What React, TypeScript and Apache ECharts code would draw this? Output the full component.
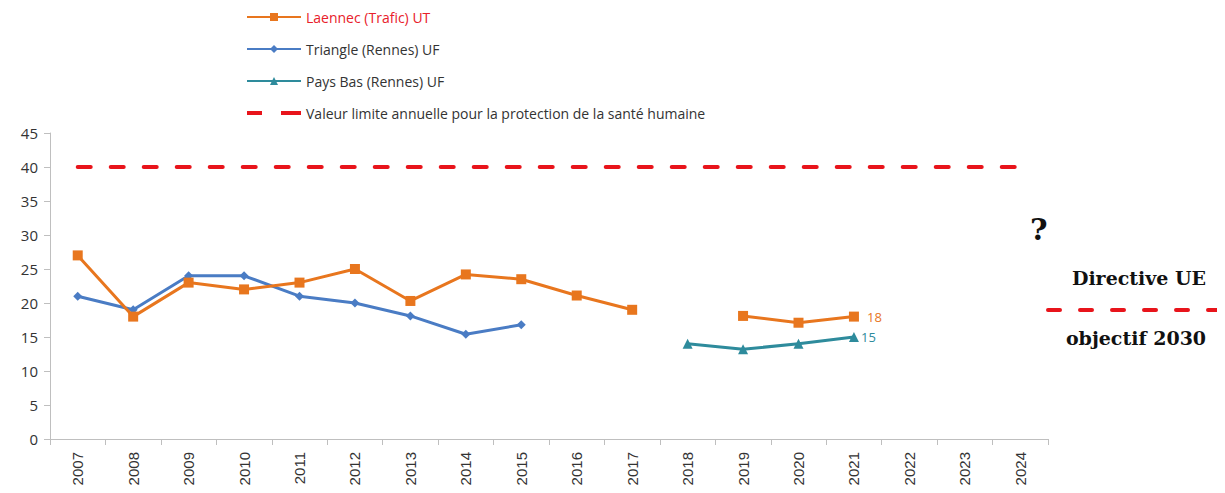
import React, { useEffect, useRef } from "react";
import * as echarts from "echarts";

const years = ["2007","2008","2009","2010","2011","2012","2013","2014","2015","2016","2017","2018","2019","2020","2021","2022","2023","2024"];
const laennec = [27, 18, 23, 22, 23, 25, 20.3, 24.2, 23.5, 21.1, 19, null, 18.1, 17.1, 18, null, null, null];
const triangle = [21, 19, 24, 24, 21, 20, 18.1, 15.4, 16.8, null, null, null, null, null, null, null, null, null];
const paysBas = [null, null, null, null, null, null, null, null, null, null, null, 14, 13.2, 14, 15, null, null, null];
const limite = [40, 40, 40, 40, 40, 40, 40, 40, 40, 40, 40, 40, 40, 40, 40, 40, 40, 40];
const names = ["Laennec (Trafic) UT", "Triangle (Rennes) UF", "Pays Bas (Rennes) UF", "Valeur limite annuelle pour la protection de la santé humaine"];

const ORANGE = "#E8761E";
const BLUE = "#4A7CC4";
const TEAL = "#2E8B9C";
const RED = "#E8141B";

export default function App() {
  const ref = useRef<HTMLDivElement>(null);
  useEffect(() => {
    const chart = echarts.init(ref.current!, null, { renderer: "svg" });
    const lastIdx = 14;
    chart.setOption({
      animation: false,
      textStyle: { fontFamily: "Open Sans" },
      legend: {
        orient: "vertical",
        left: 241,
        top: 5,
        itemWidth: 54,
        itemHeight: 10,
        itemGap: 18,
        textStyle: { fontSize: 14, color: "#333", fontFamily: "Open Sans" },
        data: [
          { name: names[0], textStyle: { color: "#E8202A" } },
          { name: names[1] },
          { name: names[2] },
          { name: names[3], icon: "path://M0,3h15v4h-15z M34,3h20v4h-20z", itemStyle: { color: RED } },
        ],
      },
      grid: { left: 50, right: 177, top: 133, bottom: 54, containLabel: false },
      xAxis: {
        type: "category",
        data: years,
        boundaryGap: true,
        axisLine: { lineStyle: { color: "#bfbfbf", width: 1 } },
        axisTick: { show: true, alignWithLabel: false, length: 6, lineStyle: { color: "#bfbfbf" } },
        axisLabel: { rotate: 90, fontSize: 15, color: "#333", margin: 13, fontFamily: "Liberation Sans" },
      },
      yAxis: {
        type: "value",
        min: 0,
        max: 45,
        interval: 5,
        splitLine: { show: false },
        axisLine: { show: true, lineStyle: { color: "#bfbfbf" } },
        axisTick: { show: true, length: 6, lineStyle: { color: "#bfbfbf" } },
        axisLabel: { fontSize: 15, color: "#333", margin: 12 },
      },
      series: [
        {
          name: names[0],
          type: "line",
          data: laennec,
          connectNulls: false,
          symbol: "rect",
          symbolSize: 10,
          itemStyle: { color: ORANGE },
          lineStyle: { color: ORANGE, width: 3 },
          label: {
            show: true,
            position: "right",
            distance: 8,
            color: ORANGE,
            fontSize: 13,
            formatter: (p: any) => (p.dataIndex === lastIdx ? String(p.value) : ""),
          },
          z: 3,
        },
        {
          name: names[1],
          type: "line",
          data: triangle,
          symbol: "diamond",
          symbolSize: 9,
          itemStyle: { color: BLUE },
          lineStyle: { color: BLUE, width: 3 },
          z: 2,
        },
        {
          name: names[2],
          type: "line",
          data: paysBas,
          symbol: "triangle",
          symbolSize: 10,
          itemStyle: { color: TEAL },
          lineStyle: { color: TEAL, width: 3 },
          label: {
            show: true,
            position: "right",
            distance: 2,
            color: TEAL,
            fontSize: 13,
            formatter: (p: any) => (p.dataIndex === lastIdx ? String(p.value) : ""),
          },
          z: 3,
        },
        {
          name: names[3],
          type: "line",
          data: limite,
          symbol: "none",
          itemStyle: { color: RED },
          lineStyle: { color: RED, width: 4, type: [13, 20], cap: "round" },
          z: 1,
        },
      ],
      graphic: [
        {
          type: "text",
          left: 1030,
          top: 214,
          style: { text: "?", font: "bold 30px 'DejaVu Serif'", fill: "#111" },
        },
        {
          type: "text",
          x: 1139,
          y: 278,
          style: { text: "Directive UE", font: "bold 19px 'DejaVu Serif'", fill: "#111", textAlign: "center", textVerticalAlign: "middle" },
        },
        {
          type: "line",
          shape: { x1: 1048, y1: 310, x2: 1225, y2: 310 },
          style: { stroke: RED, lineWidth: 4, lineDash: [12, 20], lineCap: "round" },
        },
        {
          type: "text",
          x: 1136,
          y: 338,
          style: { text: "objectif 2030", font: "bold 19px 'DejaVu Serif'", fill: "#111", textAlign: "center", textVerticalAlign: "middle" },
        },
      ],
    });
    return () => chart.dispose();
  }, []);
  return <div ref={ref} style={{ width: 1225, height: 493, margin: -8 }} />;
}
